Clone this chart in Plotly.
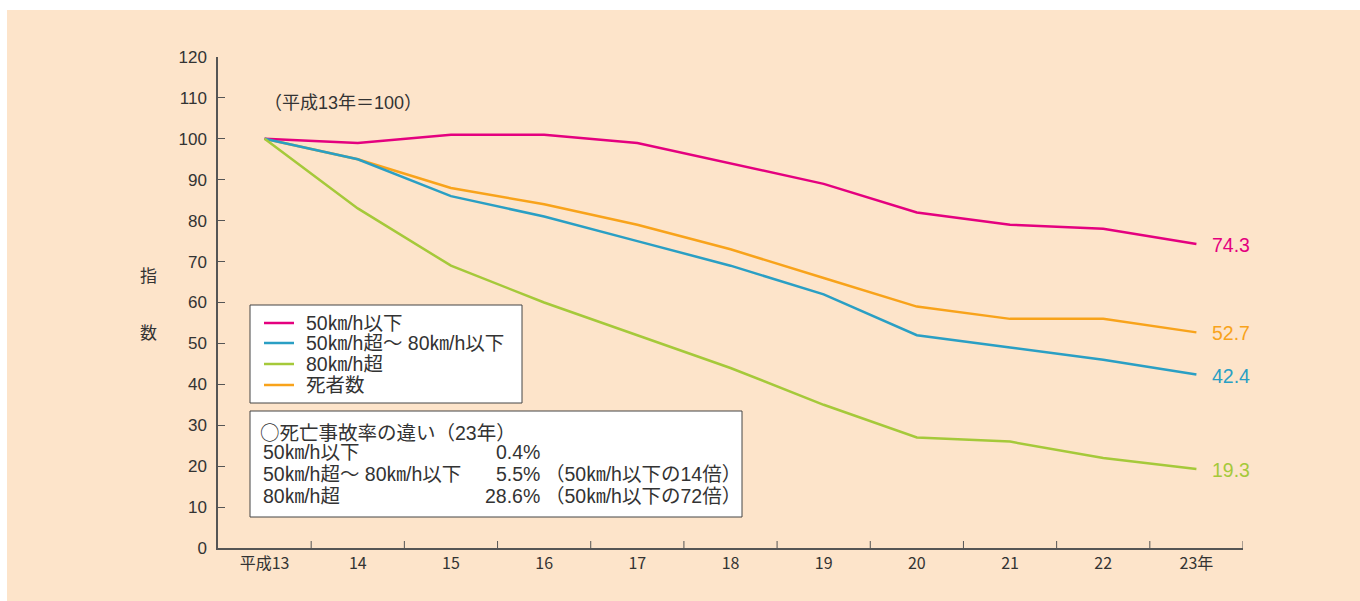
import plotly.graph_objects as go

# 年次（平成13年〜23年）
years = ["平成13", "14", "15", "16", "17", "18", "19", "20", "21", "22", "23年"]

# 指数（平成13年＝100）
idx_under50 = [100, 99, 101, 101, 99, 94, 89, 82, 79, 78, 74.3]
idx_50to80 = [100, 95, 86, 81, 75, 69, 62, 52, 49, 46, 42.4]
idx_over80 = [100, 83, 69, 60, 52, 44, 35, 27, 26, 22, 19.3]
idx_deaths = [100, 95, 88, 84, 79, 73, 66, 59, 56, 56, 52.7]

series_names = ["50㎞/h以下", "50㎞/h超～ 80㎞/h以下", "80㎞/h超", "死者数"]
series_values = [idx_under50, idx_50to80, idx_over80, idx_deaths]
series_colors = ["#E4007F", "#2A9FC4", "#A5C93A", "#F8A31B"]

# 死亡事故率の違い（23年）
rate_labels = ["50㎞/h以下", "50㎞/h超～ 80㎞/h以下", "80㎞/h超"]
rate_values = ["0.4%", "5.5%", "28.6%"]
rate_notes = ["", "（50㎞/h以下の14倍）", "（50㎞/h以下の72倍）"]

FONT = "Liberation Sans, Noto Sans CJK JP"
CJK = "Noto Sans CJK JP"
TEXT = "#333333"
BG = "#FDE4CA"
BOX_FS = 19.5

W, H = 1360, 601
ML, MR, MT, MB = 218, 117, 57, 53
PW, PH = W - ML - MR, H - MT - MB


def px(x):
    return (x - ML) / PW


def py(y):
    return (H - MB - y) / PH


fig = go.Figure()

# draw order: orange under blue so the overlap near 14 shows blue on top
for i in [3, 0, 1, 2]:
    fig.add_trace(go.Scatter(
        x=years, y=series_values[i], name=series_names[i], mode="lines",
        line=dict(color=series_colors[i], width=2.5), showlegend=False,
    ))

# end-of-line value labels
for vals, col in zip(series_values, series_colors):
    fig.add_annotation(x=years[-1], y=vals[-1], text=f"{vals[-1]:.1f}", showarrow=False,
                       xanchor="left", xshift=14, yshift=-1,
                       font=dict(family=FONT, size=19.5, color=col))

shapes = [
    # peach panel behind everything
    dict(type="rect", xref="paper", yref="paper", x0=px(7), x1=px(W + 5), y0=py(H + 5), y1=py(10),
         fillcolor=BG, line=dict(width=0), layer="below"),
    # legend box
    dict(type="rect", xref="paper", yref="paper", x0=px(250), x1=px(522), y0=py(403), y1=py(305),
         fillcolor="white", line=dict(color="#444444", width=1)),
    # info box
    dict(type="rect", xref="paper", yref="paper", x0=px(250), x1=px(742), y0=py(517), y1=py(411),
         fillcolor="white", line=dict(color="#444444", width=1)),
]

annotations = [
    dict(text="（平成13年＝100）", x=px(262), y=py(103), xref="paper", yref="paper",
         xanchor="left", yanchor="middle", showarrow=False, font=dict(family=FONT, size=18, color=TEXT)),
    dict(text="指", x=px(138), y=py(276), xref="paper", yref="paper", showarrow=False,
         font=dict(family=FONT, size=17, color=TEXT)),
    dict(text="数", x=px(138), y=py(333), xref="paper", yref="paper", showarrow=False,
         font=dict(family=FONT, size=17, color=TEXT)),
    dict(text=f"<span style='font-family:{CJK}'>○</span>死亡事故率の違い（23年）",
         x=px(258), y=py(431), xref="paper", yref="paper",
         xanchor="left", yanchor="middle", showarrow=False, font=dict(family=FONT, size=BOX_FS, color=TEXT)),
]

# legend rows: colour sample + series name
legend_rows = [323, 343, 364, 385]
for name, col, yy in zip(series_names, series_colors, legend_rows):
    shapes.append(dict(type="line", xref="paper", yref="paper", x0=px(264), x1=px(294),
                       y0=py(yy), y1=py(yy), line=dict(color=col, width=2.5)))
    annotations.append(dict(text=name, x=px(304), y=py(yy), xref="paper", yref="paper",
                            xanchor="left", yanchor="middle", showarrow=False,
                            font=dict(family=FONT, size=BOX_FS, color=TEXT)))

row_y = [452, 474, 496]
for lab, val, note, yy in zip(rate_labels, rate_values, rate_notes, row_y):
    annotations.append(dict(text=lab, x=px(261), y=py(yy), xref="paper", yref="paper",
                            xanchor="left", yanchor="middle", showarrow=False,
                            font=dict(family=FONT, size=BOX_FS, color=TEXT)))
    annotations.append(dict(text=val, x=px(542), y=py(yy), xref="paper", yref="paper",
                            xanchor="right", yanchor="middle", showarrow=False,
                            font=dict(family=FONT, size=BOX_FS, color=TEXT)))
    if note:
        annotations.append(dict(text=note, x=px(543), y=py(yy), xref="paper", yref="paper",
                                xanchor="left", yanchor="middle", showarrow=False,
                                font=dict(family=FONT, size=BOX_FS, color=TEXT)))

for a in annotations:
    fig.add_annotation(**a)

fig.update_layout(
    width=W, height=H,
    margin=dict(l=ML, r=MR, t=MT, b=MB),
    paper_bgcolor="white",
    plot_bgcolor="rgba(0,0,0,0)",
    font=dict(family=FONT, color=TEXT),
    shapes=shapes,
    showlegend=False,
    xaxis=dict(
        type="category", range=[-0.5, 10.5], showgrid=False, zeroline=False,
        showline=True, linecolor="#555555", linewidth=1.5,
        ticks="", tickfont=dict(family=CJK, size=16, color=TEXT),
    ),
    yaxis=dict(
        range=[0, 120], dtick=10, showgrid=False, zeroline=False,
        showline=True, linecolor="#555555", linewidth=1.5,
        ticks="inside", ticklen=7, tickcolor="#555555", tickwidth=1,
        tickfont=dict(family=FONT, size=17, color=TEXT), ticklabelstandoff=6,
    ),
)

# category-boundary ticks on the x axis, pointing up into the plot
for k in range(1, 12):
    fig.add_shape(type="line", xref="x", yref="paper", x0=k - 0.5, x1=k - 0.5,
                  y0=0, y1=7 / PH, line=dict(color="#555555", width=1))

fig.write_html("out.html")
